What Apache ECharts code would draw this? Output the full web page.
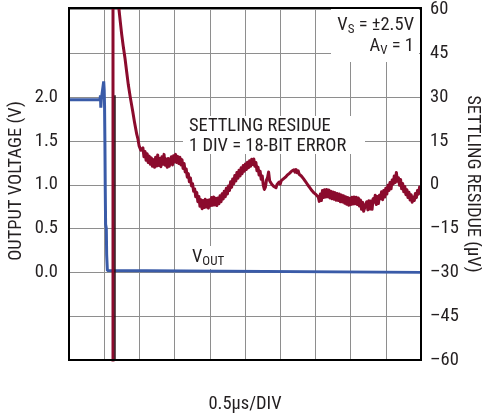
<!DOCTYPE html>
<html>
<head>
<meta charset="utf-8">
<script src="https://cdn.jsdelivr.net/npm/echarts@6/dist/echarts.min.js"></script>
<style>
html,body{margin:0;padding:0;background:#fff;}
#c{width:482px;height:419px;}
</style>
</head>
<body>
<div id="c"></div>
<script>
// time axis in microseconds (0.5 µs per division)
const timeTicks = [0, 0.5, 1, 1.5, 2, 2.5, 3, 3.5, 4, 4.5, 5];
const voltTickLabels = ['0.0', '0.5', '1.0', '1.5', '2.0'];
const residueTicks = [-60, -45, -30, -15, 0, 15, 30, 45, 60];

// output voltage trace [time µs, volts]
const vout = [
  [0, 1.97], [0.44, 1.97], [0.447, 2.02], [0.452, 1.88], [0.458, 1.97], [0.48, 1.98],
  [0.493, 2.18], [0.50, 2.08], [0.505, 1.9], [0.51, 1.5], [0.515, 0.95],
  [0.52, 0.55], [0.53, 0.5], [0.535, 0.2], [0.545, 0.02], [0.555, 0], [5, 0]
];

// dark edge beside saturated residue trace [time µs, volts]
const darkEdge = [[0.653, 2.02], [0.653, -1.2]];

// settling residue trace [time µs, µV]
const residue = [
  [0.625, -75], [0.625, 75], [0.70, 75], [0.705, 66],
  [0.71, 60], [0.73, 55.5], [0.749, 51.4], [0.77, 47.5], [0.795, 43.4], [0.82, 38.5],
  [0.842, 34.3], [0.87, 30], [0.905, 25.2], [0.93, 21.5], [0.962, 17.3], [0.98, 15.6],
  [0.995, 13.4], [1.01, 13.6], [1.02, 11.8], [1.033, 11.6],
  [1.05, 12.6], [1.065, 9.6], [1.08, 11.4], [1.095, 8.4], [1.11, 10.6], [1.125, 7.6],
  [1.14, 9.8], [1.155, 7.0], [1.17, 9.2], [1.185, 6.3], [1.2, 8.6], [1.215, 6.0],
  [1.23, 9.4], [1.245, 6.4], [1.26, 10.2], [1.275, 6.6], [1.29, 9.0], [1.305, 6.2],
  [1.32, 9.6], [1.335, 7.0], [1.35, 10.4], [1.365, 6.7], [1.38, 8.8], [1.395, 6.0],
  [1.41, 9.0], [1.425, 6.3], [1.44, 8.4], [1.455, 9.6], [1.47, 6.8], [1.485, 9.9],
  [1.5, 7.8], [1.515, 10.4], [1.53, 7.6], [1.545, 9.7], [1.56, 7.3], [1.575, 9.4],
  [1.59, 6.8], [1.605, 8.6], [1.62, 5.6], [1.635, 7.3], [1.65, 4.4], [1.665, 5.4],
  [1.68, 2.6], [1.695, 3.8], [1.71, 1.0], [1.725, 2.3], [1.74, -0.4], [1.755, 0.4],
  [1.77, -2.2], [1.785, -1.4], [1.8, -4.1], [1.815, -2.6], [1.83, -5.8], [1.845, -4.0],
  [1.86, -7.4], [1.875, -5.1], [1.89, -8.2], [1.905, -5.4], [1.92, -7.8], [1.935, -5.0],
  [1.95, -7.6], [1.965, -5.3], [1.98, -8.0], [1.995, -5.1], [2.01, -7.2], [2.025, -4.4],
  [2.04, -7.0], [2.055, -4.2], [2.07, -6.9], [2.085, -4.6], [2.1, -7.1], [2.115, -4.5],
  [2.13, -6.5], [2.145, -3.8], [2.16, -5.8], [2.175, -3.1], [2.19, -4.9], [2.205, -2.2],
  [2.22, -4.1], [2.235, -1.2], [2.25, -3.2], [2.265, -0.4], [2.28, -2.0], [2.295, 1.0],
  [2.31, -0.9], [2.325, 2.0], [2.34, 0.3], [2.355, 3.2], [2.37, 1.3], [2.385, 4.2],
  [2.4, 2.2], [2.415, 5.0], [2.43, 3.0], [2.445, 5.8], [2.46, 3.8], [2.475, 6.6],
  [2.49, 4.6], [2.505, 7.1], [2.52, 5.2], [2.535, 7.7], [2.55, 5.8], [2.565, 8.2],
  [2.58, 6.3], [2.595, 8.7], [2.61, 6.9], [2.625, 8.8], [2.64, 6.3], [2.655, 7.6],
  [2.67, 4.8], [2.685, 6.0], [2.7, 3.3], [2.715, 4.6], [2.73, 1.9], [2.745, 3.0],
  [2.76, -0.2], [2.775, -1.6], [2.79, -0.8], [2.805, 1.6], [2.82, 2.4], [2.835, 4.4],
  [2.85, 1.4], [2.865, 1.9], [2.88, 0.2], [2.895, 0.4], [2.91, -0.6], [2.925, -0.2],
  [2.94, -1.0], [2.955, 0.1], [2.97, -0.4], [2.985, 0.9], [3.0, 0.2], [3.015, 1.4],
  [3.03, 0.8], [3.045, 2.0], [3.06, 1.4], [3.075, 2.6], [3.09, 2.2], [3.105, 3.4],
  [3.12, 2.8], [3.135, 4.0], [3.15, 3.5], [3.165, 4.7], [3.18, 4.1], [3.195, 5.1],
  [3.21, 4.3], [3.225, 5.2], [3.24, 4.1], [3.255, 4.8], [3.27, 3.6], [3.285, 4.2],
  [3.3, 3.0], [3.315, 3.5], [3.33, 2.1], [3.345, 2.6], [3.36, 1.1], [3.375, 1.5],
  [3.39, 0.0], [3.405, 0.4], [3.42, -1.0], [3.435, -0.6], [3.45, -2.0], [3.465, -1.6],
  [3.48, -2.8], [3.495, -2.2], [3.51, -3.4], [3.525, -3.0], [3.54, -4.2], [3.555, -5.7],
  [3.57, -3.2], [3.585, -5.4], [3.6, -2.0], [3.615, -4.4], [3.63, -1.7], [3.645, -4.2],
  [3.66, -1.6], [3.675, -4.1], [3.69, -1.8], [3.705, -4.5], [3.72, -2.2], [3.735, -4.8],
  [3.75, -2.5], [3.765, -5.0], [3.78, -2.7], [3.795, -5.3], [3.81, -3.0], [3.825, -5.4],
  [3.84, -3.2], [3.855, -5.8], [3.87, -3.5], [3.885, -5.9], [3.9, -3.8], [3.915, -6.3],
  [3.93, -4.1], [3.945, -6.7], [3.96, -4.4], [3.975, -7.0], [3.99, -4.6], [4.005, -6.8],
  [4.02, -4.3], [4.035, -6.6], [4.05, -4.2], [4.065, -6.5], [4.08, -4.3], [4.095, -6.8],
  [4.11, -4.5], [4.125, -7.3], [4.14, -5.2], [4.155, -8.4], [4.17, -6.0], [4.185, -9.1],
  [4.2, -9.7], [4.215, -6.6], [4.23, -5.8], [4.245, -8.6], [4.26, -5.5], [4.275, -8.3],
  [4.29, -5.6], [4.305, -8.4], [4.32, -4.8], [4.335, -6.0], [4.35, -3.6], [4.365, -6.8],
  [4.38, -4.0], [4.395, -6.4], [4.41, -3.6], [4.425, -4.8], [4.44, -2.4], [4.455, -5.1],
  [4.47, -2.0], [4.485, -4.2], [4.5, -1.2], [4.515, -3.2], [4.53, -0.2], [4.545, -2.0],
  [4.56, 0.8], [4.575, -1.4], [4.59, 1.6], [4.605, 0.2], [4.62, 3.0], [4.635, 0.8],
  [4.65, 4.2], [4.665, 1.2], [4.68, 2.4], [4.695, -0.2], [4.71, 1.8], [4.725, -1.4],
  [4.74, 0.4], [4.755, -2.4], [4.77, -0.6], [4.785, -3.4], [4.8, -1.7], [4.815, -4.4],
  [4.83, -2.6], [4.845, -5.2], [4.86, -3.4], [4.875, -6.0], [4.89, -4.2], [4.905, -5.4],
  [4.92, -3.0], [4.935, -4.4], [4.95, -2.0], [4.965, -3.2], [4.98, -0.8], [4.995, -2.0]
];

const FONT = "'Liberation Sans Narrow', 'Roboto Condensed', 'DejaVu Sans Condensed', 'Liberation Sans', sans-serif";
const TXT = '#231f20';
const RED = '#8b0b2d';
const BLUE = '#3a5ba8';
const GRIDC = '#8e8e8e';

const chart = echarts.init(document.getElementById('c'), null, {renderer: 'canvas'});
chart.setOption({
  animation: false,
  backgroundColor: '#fff',
  grid: {left: 69, right: 61, top: 8, bottom: 59, show: false},
  xAxis: {
    type: 'value', min: timeTicks[0], max: timeTicks[timeTicks.length - 1], interval: 0.5,
    axisLine: {show: false}, axisTick: {show: false}, axisLabel: {show: false},
    splitLine: {show: true, lineStyle: {color: GRIDC, width: 1}}
  },
  yAxis: [
    {
      type: 'value', min: -1, max: 3, interval: 0.5, position: 'left',
      axisLine: {show: false}, axisTick: {show: false},
      axisLabel: {
        margin: 11, fontSize: 18.5, fontFamily: FONT, color: TXT,
        formatter: function (v) { const s = v.toFixed(1); return voltTickLabels.indexOf(s) >= 0 ? s : ''; }
      },
      splitLine: {show: true, lineStyle: {color: GRIDC, width: 1}}
    },
    {
      type: 'value', min: residueTicks[0], max: residueTicks[residueTicks.length - 1], interval: 15, position: 'right',
      axisLine: {show: false}, axisTick: {show: false},
      axisLabel: {
        margin: 9, fontSize: 18.5, fontFamily: FONT, color: TXT,
        formatter: function (v) { return v < 0 ? '\u2013' + Math.abs(v) : String(v); }
      },
      splitLine: {show: false}
    }
  ],
  series: [
    {type: 'line', yAxisIndex: 0, data: vout, showSymbol: false, symbol: 'none', clip: true, z: 3,
     lineStyle: {color: BLUE, width: 3}},
    {type: 'line', yAxisIndex: 0, data: darkEdge, showSymbol: false, symbol: 'none', clip: true, z: 5,
     lineStyle: {color: '#2a0a12', width: 1.5}},
    {type: 'line', yAxisIndex: 1, data: residue, showSymbol: false, symbol: 'none', clip: true, z: 4,
     lineStyle: {color: RED, width: 3, join: 'round'}}
  ],
  graphic: [
    {type: 'rect', z: 1, shape: {x: 331, y: 9, width: 88, height: 53}, style: {fill: '#fff'}},
    {type: 'rect', z: 1, shape: {x: 183, y: 116, width: 182, height: 38}, style: {fill: '#fff'}},
    {type: 'rect', z: 1, shape: {x: 190, y: 246, width: 42, height: 23}, style: {fill: '#fff'}},
    {type: 'rect', z: 20, shape: {x: 69, y: 8, width: 352, height: 352},
     style: {fill: 'none', stroke: '#000', lineWidth: 2}},
    {type: 'text', z: 6, style: {
      x: 414, y: 25, align: 'right', verticalAlign: 'middle',
      text: '{m|V}{s|S}{m| = \u00b12.5V}',
      rich: {m: {fontSize: 18.5, fontFamily: FONT, fill: TXT, lineHeight: 22, verticalAlign: 'middle'},
             s: {fontSize: 13, fontFamily: FONT, fill: TXT, lineHeight: 12, verticalAlign: 'bottom'}}
    }},
    {type: 'text', z: 6, style: {
      x: 414, y: 46, align: 'right', verticalAlign: 'middle',
      text: '{m|A}{s|V}{m| = 1}',
      rich: {m: {fontSize: 18.5, fontFamily: FONT, fill: TXT, lineHeight: 22, verticalAlign: 'middle'},
             s: {fontSize: 13, fontFamily: FONT, fill: TXT, lineHeight: 12, verticalAlign: 'bottom'}}
    }},
    {type: 'text', z: 6, style: {x: 189, y: 126.5, align: 'left', verticalAlign: 'middle',
      text: 'SETTLING RESIDUE', font: '18.5px ' + FONT, fill: TXT}},
    {type: 'text', z: 6, style: {x: 189, y: 146.5, align: 'left', verticalAlign: 'middle',
      text: '1 DIV = 18-BIT ERROR', font: '18.5px ' + FONT, fill: TXT}},
    {type: 'text', z: 6, style: {
      x: 192, y: 257, align: 'left', verticalAlign: 'middle',
      text: '{m|V}{s|OUT}',
      rich: {m: {fontSize: 18.5, fontFamily: FONT, fill: TXT, lineHeight: 22, verticalAlign: 'middle'},
             s: {fontSize: 13, fontFamily: FONT, fill: TXT, lineHeight: 12, verticalAlign: 'bottom'}}
    }},
    {type: 'text', z: 6, x: 16, y: 181, rotation: Math.PI / 2, style: {
      x: 0, y: 0, align: 'center', verticalAlign: 'middle',
      text: 'OUTPUT VOLTAGE (V)', font: '18.5px ' + FONT, fill: TXT}},
    {type: 'text', z: 6, x: 473, y: 184, rotation: -Math.PI / 2, style: {
      x: 0, y: 0, align: 'center', verticalAlign: 'middle',
      text: 'SETTLING RESIDUE (\u00b5V)', font: '18.5px ' + FONT, fill: TXT}},
    {type: 'text', z: 6, style: {x: 245, y: 404, align: 'center', verticalAlign: 'middle',
      text: '0.5\u00b5s/DIV', font: '18.5px ' + FONT, fill: TXT}}
  ]
});
</script>
</body>
</html>
